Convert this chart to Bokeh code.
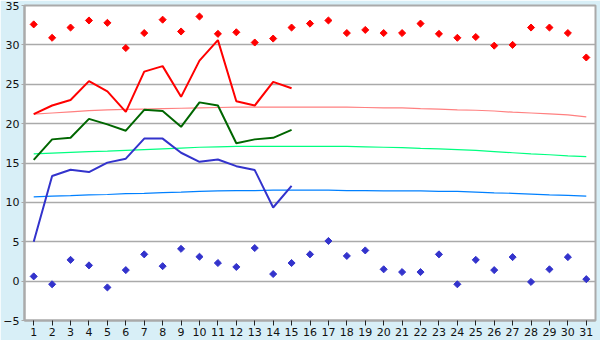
import math
from bokeh.plotting import figure
from bokeh.models import FixedTicker, Range1d
from bokeh.embed import file_html
from bokeh.resources import INLINE

days = list(range(1, 32))

record_max = [32.6, 30.9, 32.2, 33.1, 32.8, 29.6, 31.5, 33.2, 31.7, 33.6,
              31.4, 31.6, 30.3, 30.8, 32.2, 32.7, 33.1, 31.5, 31.9, 31.5,
              31.5, 32.7, 31.4, 30.9, 31.0, 29.9, 30.0, 32.2, 32.2, 31.5, 28.4]
record_min = [0.6, -0.4, 2.7, 2.0, -0.8, 1.4, 3.4, 1.9, 4.1, 3.1,
              2.3, 1.8, 4.2, 0.9, 2.3, 3.4, 5.1, 3.2, 3.9, 1.5,
              1.15, 1.15, 3.4, -0.4, 2.7, 1.4, 3.05, -0.1, 1.5, 3.05, 0.25]

obs_days = list(range(1, 16))
tmax = [21.2, 22.3, 23.0, 25.4, 24.1, 21.5, 26.6, 27.3, 23.4, 28.0,
        30.6, 22.85, 22.3, 25.3, 24.5]
tmean = [15.4, 18.0, 18.2, 20.6, 19.9, 19.1, 21.75, 21.6, 19.6, 22.7,
         22.3, 17.5, 18.0, 18.2, 19.2]
tmin = [5.0, 13.35, 14.15, 13.85, 15.05, 15.55, 18.1, 18.1, 16.3, 15.15,
        15.45, 14.6, 14.1, 9.35, 12.1]

norm_max = [21.2, 21.35, 21.5, 21.65, 21.75, 21.8, 21.85, 21.9, 21.95, 22.0,
            22.05, 22.1, 22.1, 22.1, 22.1, 22.1, 22.1, 22.1, 22.05, 22.0,
            22.0, 21.9, 21.85, 21.75, 21.7, 21.6, 21.45, 21.35, 21.25, 21.1, 20.85]
norm_mean = [16.15, 16.25, 16.35, 16.45, 16.5, 16.6, 16.7, 16.8, 16.9, 17.0,
             17.05, 17.1, 17.1, 17.1, 17.1, 17.1, 17.1, 17.1, 17.05, 17.0,
             16.95, 16.85, 16.8, 16.7, 16.6, 16.45, 16.3, 16.15, 16.05, 15.9, 15.8]
norm_min = [10.7, 10.8, 10.85, 10.95, 11.0, 11.1, 11.15, 11.25, 11.3, 11.4,
            11.45, 11.5, 11.5, 11.55, 11.55, 11.55, 11.55, 11.5, 11.5, 11.45,
            11.45, 11.45, 11.4, 11.4, 11.3, 11.2, 11.15, 11.05, 10.95, 10.9, 10.8]

y_ticks = [-5, 0, 5, 10, 15, 20, 25, 30, 35]

p = figure(width=600, height=340, output_backend="svg", toolbar_location=None,
           x_range=Range1d(0.5, 31.5), y_range=Range1d(-5, 35),
           min_border_left=21, min_border_right=5, min_border_top=5, min_border_bottom=20)

p.background_fill_color = "white"
p.border_fill_color = "#d8eff7"
p.outline_line_color = "#aaaaaa"
p.outline_line_width = 2

p.xgrid.visible = False
p.ygrid.grid_line_color = "#aaaaaa"
p.ygrid.grid_line_width = 1.5
p.ygrid.ticker = FixedTicker(ticks=y_ticks)

p.xaxis.ticker = FixedTicker(ticks=days)
p.yaxis.ticker = FixedTicker(ticks=y_ticks)
for ax in (p.xaxis, p.yaxis):
    ax.axis_line_color = "#aaaaaa"
    ax.axis_line_width = 2
    ax.major_tick_line_color = "#222222"
    ax.major_tick_line_width = 1
    ax.minor_tick_line_color = None
    ax.major_tick_in = 0
    ax.major_label_text_font = "DejaVu Sans"
    ax.major_label_text_font_size = "11px"
    ax.major_label_text_color = "#111111"
    ax.major_label_standoff = 2
p.xaxis.major_tick_out = 5
p.yaxis.major_tick_out = 3
p.yaxis.major_tick_line_color = "#aaaaaa"

# normals
p.line(days, norm_max, line_color="#ff8080", line_width=1.2)
p.line(days, norm_mean, line_color="#00ff80", line_width=1.2)
p.line(days, norm_min, line_color="#0080ff", line_width=1.2)

# observed
p.line(obs_days, tmax, line_color="#ff0000", line_width=2)
p.line(obs_days, tmean, line_color="#006600", line_width=2)
p.line(obs_days, tmin, line_color="#3333cc", line_width=2)

# records
p.scatter(days, record_max, marker="square", angle=math.pi / 4, size=5,
          fill_color="#ff0000", line_color="#ff0000", line_width=1)
p.scatter(days, record_min, marker="square", angle=math.pi / 4, size=5,
          fill_color="#3333cc", line_color="#3333cc", line_width=1)

open("out.html", "w").write(file_html(p, INLINE))
